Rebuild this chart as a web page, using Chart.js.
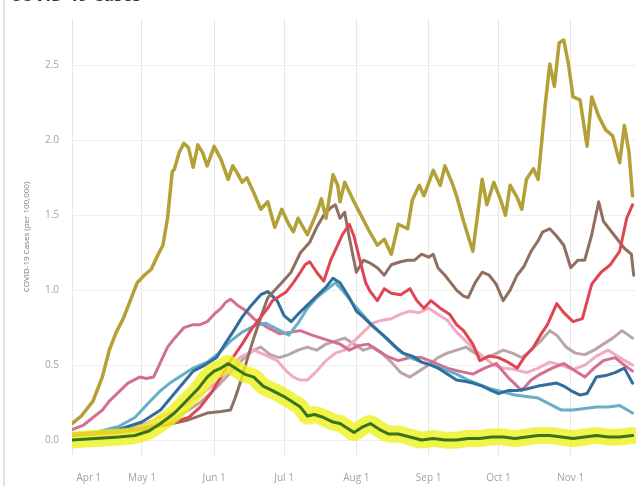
<!DOCTYPE html>
<html>
<head>
<meta charset="utf-8">
<script src="https://cdn.jsdelivr.net/npm/chart.js@4"></script>
<style>
  body { margin: 0; background: #fff; font-family: 'Open Sans', sans-serif; }
  #wrap { position: relative; width: 636px; height: 486px; overflow: hidden; }
  #titolo { position: absolute; left: 10px; top: -14px; font-size: 17px; line-height: 17px; font-weight: 700; color: #333; }
  #bordo { position: absolute; left: 3px; top: 0; width: 2px; height: 486px; background: #e2e2e2; }
  canvas { position: absolute; left: 0; top: 0; }
</style>
</head>
<body>
<div id="wrap">
  <canvas id="myChart" width="636" height="486"></canvas>
  <div id="bordo"></div>
  <div id="titolo">COVID-19 Cases</div>
</div>
<script>
// days since Apr 1 -> cases per 100,000
var mesiGiorni = [0, 30, 61, 91, 122, 153, 183, 214];
var mesiEtichette = ['Apr 1', 'May 1', 'Jun 1', 'Jul 1', 'Aug 1', 'Sep 1', 'Oct 1', 'Nov 1'];
var yTicks = [0, 0.5, 1, 1.5, 2, 2.5];

var oro = [[0,0.11],[4,0.16],[9,0.26],[13,0.42],[16,0.6],[19,0.72],[22,0.81],[25,0.93],[28,1.05],[31,1.1],[34,1.14],[37,1.24],[39,1.3],[41,1.48],[43,1.79],[44,1.81],[46,1.92],[48,1.98],[50,1.95],[52,1.82],[54,1.97],[56,1.92],[58,1.83],[61,1.96],[64,1.87],[67,1.74],[69,1.83],[71,1.78],[73,1.72],[75,1.75],[78,1.65],[81,1.54],[84,1.59],[87,1.42],[90,1.54],[93,1.44],[95,1.39],[97,1.48],[101,1.37],[104,1.48],[106,1.56],[107,1.61],[109,1.48],[112,1.77],[114,1.7],[115,1.59],[117,1.72],[121,1.59],[124,1.5],[127,1.41],[131,1.3],[134,1.34],[137,1.24],[140,1.44],[144,1.41],[146,1.6],[149,1.7],[151,1.63],[155,1.8],[158,1.7],[160,1.83],[163,1.72],[165,1.63],[168,1.46],[172,1.26],[176,1.74],[178,1.57],[181,1.72],[184,1.6],[186,1.5],[188,1.7],[191,1.62],[193,1.54],[195,1.74],[198,1.81],[200,1.74],[203,2.23],[205,2.51],[207,2.36],[209,2.65],[211,2.67],[213,2.51],[215,2.29],[218,2.27],[221,1.96],[223,2.29],[226,2.16],[229,2.07],[232,2.03],[235,1.85],[237,2.1],[239,1.92],[240.5,1.63]];

var marrone = [[0,0.04],[10,0.05],[20,0.06],[30,0.08],[40,0.1],[49,0.13],[58,0.18],[64,0.19],[68,0.2],[70,0.28],[73,0.42],[75,0.53],[78,0.68],[81,0.82],[84,0.95],[87,1.0],[90,1.05],[94,1.12],[98,1.25],[102,1.32],[105,1.42],[108,1.5],[111,1.55],[113,1.57],[115,1.48],[117,1.52],[119,1.35],[122,1.12],[125,1.2],[128,1.18],[131,1.15],[134,1.1],[137,1.17],[141,1.19],[144,1.2],[147,1.2],[150,1.24],[153,1.22],[155,1.24],[157,1.15],[160,1.1],[162,1.06],[165,1.0],[168,0.96],[170,0.95],[173,1.05],[176,1.12],[179,1.1],[182,1.04],[185,0.93],[188,1.0],[191,1.1],[194,1.16],[197,1.26],[200,1.33],[202,1.39],[205,1.41],[208,1.36],[211,1.3],[214,1.15],[217,1.2],[220,1.2],[223,1.37],[226,1.59],[228,1.46],[231,1.4],[234,1.34],[237,1.28],[240,1.24],[241,1.1]];

var rosso = [[0,0.04],[10,0.04],[20,0.05],[30,0.07],[40,0.1],[50,0.15],[55,0.22],[60,0.32],[65,0.45],[69,0.55],[73,0.64],[77,0.74],[81,0.82],[84,0.88],[86,0.93],[89,0.96],[92,0.99],[95,1.05],[98,1.12],[100,1.17],[102,1.19],[105,1.12],[108,1.06],[111,1.2],[114,1.3],[116,1.37],[119,1.44],[121,1.36],[124,1.17],[126,1.05],[128,0.99],[131,0.93],[134,1.01],[137,0.98],[141,0.97],[145,1.01],[148,0.93],[151,0.88],[154,0.93],[158,0.88],[162,0.84],[165,0.77],[168,0.73],[172,0.64],[175,0.53],[179,0.56],[183,0.55],[187,0.52],[191,0.48],[194,0.55],[198,0.62],[201,0.7],[204,0.77],[208,0.91],[211,0.85],[215,0.79],[219,0.81],[223,1.04],[227,1.12],[231,1.17],[235,1.26],[238,1.48],[240.5,1.57]];

var blu = [[0,0.03],[10,0.04],[20,0.07],[30,0.12],[38,0.2],[45,0.33],[52,0.46],[57,0.5],[62,0.55],[66,0.65],[69,0.72],[73,0.82],[77,0.9],[81,0.97],[84,0.99],[88,0.93],[91,0.83],[94,0.79],[97,0.84],[101,0.9],[105,0.96],[109,1.02],[112,1.08],[115,1.05],[119,0.95],[122,0.86],[125,0.82],[129,0.76],[132,0.72],[135,0.68],[139,0.62],[142,0.58],[146,0.56],[150,0.52],[154,0.5],[157,0.48],[161,0.44],[165,0.4],[169,0.39],[172,0.38],[176,0.36],[180,0.33],[183,0.31],[187,0.33],[191,0.33],[195,0.34],[200,0.36],[204,0.37],[208,0.38],[211,0.36],[214,0.33],[218,0.3],[221,0.31],[225,0.42],[229,0.43],[233,0.45],[237,0.48],[240.5,0.38]];

var azzurro = [[0,0.03],[10,0.05],[20,0.09],[27,0.15],[33,0.25],[38,0.33],[42,0.38],[47,0.43],[52,0.48],[58,0.52],[63,0.58],[68,0.66],[73,0.72],[78,0.76],[83,0.78],[88,0.74],[93,0.7],[97,0.78],[101,0.88],[105,0.95],[109,1.0],[113,1.05],[116,1.0],[120,0.92],[124,0.85],[128,0.78],[132,0.72],[136,0.66],[140,0.6],[145,0.55],[150,0.52],[155,0.5],[160,0.47],[165,0.44],[170,0.4],[175,0.37],[180,0.34],[185,0.32],[190,0.3],[195,0.29],[200,0.28],[205,0.24],[210,0.2],[215,0.2],[220,0.21],[225,0.22],[230,0.22],[235,0.23],[240.5,0.18]];

var magenta = [[0,0.07],[5,0.1],[9,0.15],[13,0.2],[16,0.26],[20,0.32],[24,0.38],[29,0.42],[32,0.41],[35,0.42],[38,0.52],[41,0.62],[44,0.68],[48,0.75],[52,0.77],[55,0.77],[58,0.79],[61,0.84],[64,0.88],[66,0.92],[68,0.94],[71,0.9],[74,0.87],[78,0.81],[81,0.78],[84,0.75],[89,0.71],[94,0.72],[98,0.73],[103,0.7],[107,0.68],[111,0.66],[115,0.64],[119,0.6],[123,0.63],[127,0.64],[131,0.6],[135,0.56],[140,0.53],[145,0.55],[150,0.55],[155,0.52],[161,0.48],[166,0.46],[172,0.44],[177,0.48],[182,0.51],[187,0.42],[193,0.33],[197,0.4],[201,0.44],[206,0.48],[211,0.51],[216,0.46],[220,0.42],[224,0.48],[228,0.53],[233,0.55],[237,0.5],[240.5,0.46]];

var rosa = [[0,0.03],[15,0.05],[30,0.1],[45,0.2],[55,0.3],[65,0.42],[72,0.55],[78,0.6],[84,0.56],[88,0.53],[92,0.46],[95,0.42],[98,0.4],[101,0.4],[105,0.46],[109,0.53],[113,0.58],[117,0.6],[121,0.66],[125,0.72],[129,0.78],[133,0.8],[137,0.81],[141,0.84],[145,0.86],[149,0.85],[153,0.88],[157,0.84],[161,0.8],[165,0.72],[169,0.66],[173,0.6],[177,0.55],[181,0.5],[185,0.48],[190,0.47],[195,0.45],[200,0.48],[205,0.52],[210,0.5],[215,0.47],[220,0.5],[225,0.56],[230,0.6],[235,0.55],[240.5,0.5]];

var grigio = [[0,0.03],[15,0.05],[30,0.08],[45,0.15],[55,0.25],[62,0.35],[68,0.45],[74,0.55],[78,0.6],[81,0.62],[85,0.57],[89,0.55],[93,0.57],[97,0.6],[101,0.62],[105,0.6],[109,0.64],[113,0.66],[117,0.68],[121,0.64],[125,0.6],[129,0.62],[133,0.58],[137,0.52],[141,0.45],[145,0.42],[149,0.46],[153,0.5],[157,0.55],[161,0.58],[165,0.6],[169,0.62],[173,0.58],[177,0.55],[181,0.57],[185,0.6],[189,0.58],[193,0.55],[197,0.6],[201,0.66],[205,0.73],[208,0.7],[212,0.62],[216,0.58],[220,0.57],[224,0.6],[228,0.64],[232,0.68],[236,0.73],[240.5,0.68]];

var verde = [[0,0.0],[10,0.01],[20,0.02],[27,0.03],[33,0.06],[38,0.11],[44,0.18],[49,0.26],[54,0.34],[58,0.42],[61,0.46],[64,0.48],[67,0.51],[70,0.48],[74,0.44],[78,0.42],[82,0.36],[86,0.33],[91,0.29],[95,0.25],[98,0.22],[101,0.16],[104,0.17],[108,0.15],[112,0.12],[115,0.11],[119,0.07],[121,0.05],[125,0.09],[128,0.11],[132,0.07],[136,0.04],[140,0.04],[145,0.02],[150,0.0],[155,0.01],[160,0.0],[165,0.0],[170,0.01],[175,0.01],[180,0.02],[185,0.02],[190,0.01],[195,0.02],[200,0.03],[205,0.03],[210,0.02],[215,0.01],[220,0.02],[225,0.03],[230,0.02],[235,0.02],[240.5,0.03]];

function punti(arr) {
    var out = [];
    for (var i = 0; i < arr.length; i++) {
        out.push({ x: arr[i][0], y: arr[i][1] });
    }
    return out;
}

function serie(arr, colore, spessore, tensione) {
    return {
        data: punti(arr),
        borderColor: colore,
        borderWidth: spessore,
        tension: tensione || 0,
        pointRadius: 0,
        fill: false
    };
}

// first dataset is drawn on top
var datasets = [
    serie(verde, '#3a7418', 3),
    serie(verde, 'rgba(238,242,30,0.8)', 17, 0.4),
    serie(oro, '#b3a037', 3.5),
    serie(rosso, '#df4552', 3),
    serie(marrone, '#8f6f62', 3),
    serie(blu, '#326d9c', 3),
    serie(azzurro, '#66afc6', 3),
    serie(magenta, '#d46e95', 3),
    serie(rosa, '#f3abc2', 3),
    serie(grigio, '#bba5a6', 3)
];

var grigioTesto = '#a2a2a2';

const ctx = document.getElementById('myChart').getContext('2d');
const myChart = new Chart(ctx, {
    type: 'line',
    data: { datasets: datasets },
    options: {
        responsive: false,
        animation: false,
        layout: { padding: { top: 13, right: 0, left: 0, bottom: 0 } },
        plugins: { legend: { display: false }, tooltip: { enabled: false } },
        elements: { line: { borderJoinStyle: 'round', borderCapStyle: 'round' } },
        scales: {
            x: {
                type: 'linear',
                min: 0,
                max: 242,
                afterBuildTicks: function (s) { s.ticks = mesiGiorni.map(function (v) { return { value: v }; }); },
                afterFit: function (s) { s.height = 31; },
                ticks: {
                    autoSkip: false,
                    maxRotation: 0,
                    padding: 17,
                    color: grigioTesto,
                    font: { family: 'Open Sans', size: 10 },
                    callback: function (v) {
                        var i = mesiGiorni.indexOf(v);
                        if (i == 0) return '             ' + mesiEtichette[0];
                        return mesiEtichette[i];
                    }
                },
                grid: { color: '#e6e6e6', drawTicks: false },
                border: { display: false }
            },
            y: {
                min: -0.1,
                max: 2.81,
                afterBuildTicks: function (s) { s.ticks = yTicks.map(function (v) { return { value: v }; }); },
                afterFit: function (s) { s.width = 72; },
                ticks: {
                    padding: 13,
                    color: grigioTesto,
                    font: { family: 'Open Sans', size: 10 },
                    callback: function (v) { return v.toFixed(1); }
                },
                grid: { color: '#efefef', drawTicks: false },
                border: { display: false },
                title: {
                    display: true,
                    text: 'COVID-19 Cases (per 100,000)',
                    color: '#7a7a7a',
                    font: { family: 'Open Sans', size: 8 },
                    padding: { top: 22, bottom: 0 }
                }
            }
        }
    }
});
</script>
</body>
</html>
